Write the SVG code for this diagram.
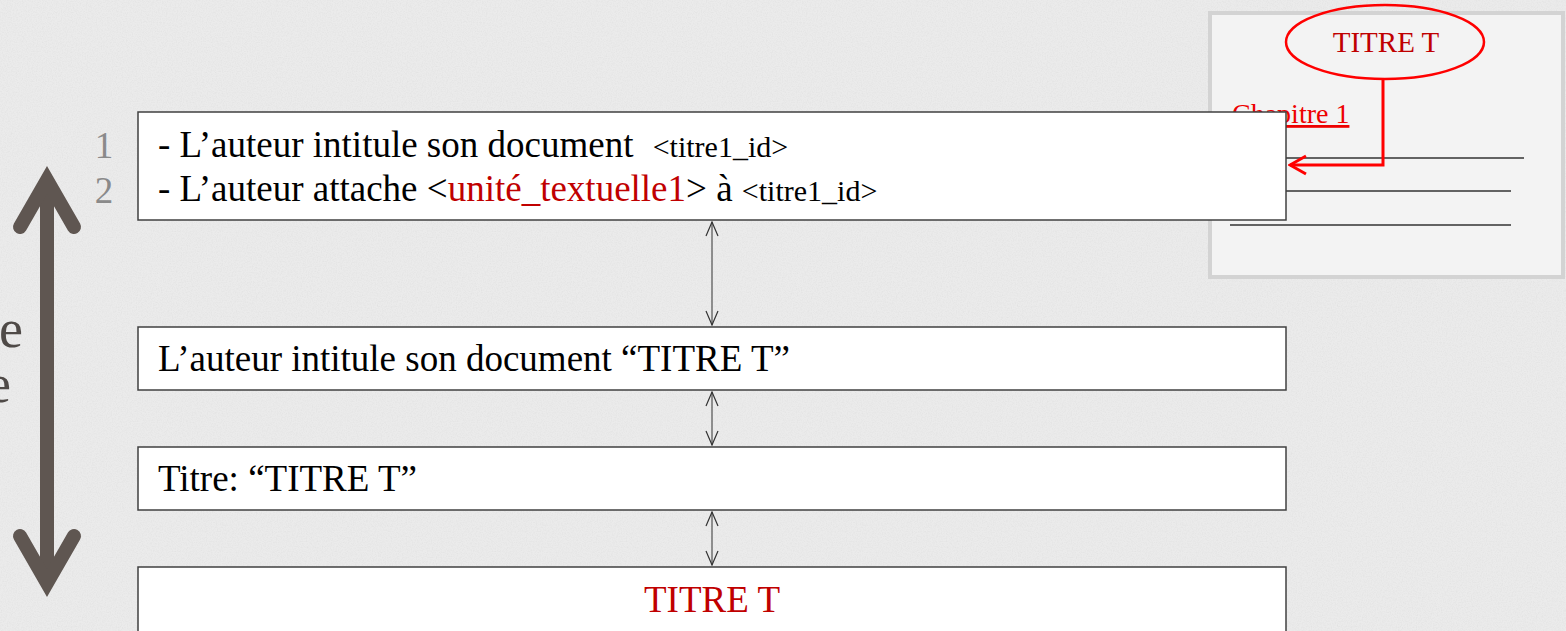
<svg xmlns="http://www.w3.org/2000/svg" width="1566" height="631" viewBox="0 0 1566 631">
<defs>
<style>
.txt{font-family:"Liberation Serif","Times New Roman",serif;font-size:37px;fill:#000}
.small{font-size:30px}
.red{fill:#c00000}
.box{fill:#fff;stroke:#404040;stroke-width:1.5}
.conn{stroke:#333;stroke-width:1;fill:none;marker-start:url(#ah);marker-end:url(#ah)}
.num{font-family:"Liberation Serif","Times New Roman",serif;font-size:37px;fill:#8a8a8a}
.rule{stroke:#333;stroke-width:1.5}
</style>
<filter id="paper" x="0" y="0" width="100%" height="100%">
<feTurbulence type="fractalNoise" baseFrequency="0.8" numOctaves="3" seed="4" result="n"/>
<feColorMatrix in="n" type="matrix" values="0 0 0 0 0.5  0 0 0 0 0.5  0 0 0 0 0.5  0 0 0 -0.9 0.55"/>
</filter>
<marker id="ah" viewBox="0 0 16 14" refX="15" refY="7" markerWidth="16" markerHeight="14" markerUnits="userSpaceOnUse" orient="auto-start-reverse">
<path d="M1,1 L15,7 L1,13" fill="none" stroke="#333" stroke-width="1.2"/>
</marker>
<marker id="rh" viewBox="0 0 20 22" refX="18" refY="11" markerWidth="20" markerHeight="22" markerUnits="userSpaceOnUse" orient="auto">
<path d="M2,2 L18,11 L2,20" fill="none" stroke="#ff0000" stroke-width="3"/>
</marker>
</defs>
<rect x="0" y="0" width="1566" height="631" fill="#ebebeb"/>
<rect x="0" y="0" width="1566" height="631" filter="url(#paper)" opacity="0.35"/>

<g id="panel">
<rect x="1210" y="13" width="353" height="264" fill="#f3f3f3" stroke="#d3d3d3" stroke-width="4"/>
<line class="rule" x1="1230" y1="158" x2="1524" y2="158"/>
<line class="rule" x1="1230" y1="191" x2="1511" y2="191"/>
<line class="rule" x1="1230" y1="225" x2="1511" y2="225"/>
<text x="1232" y="123" style="font-family:'Liberation Serif','Times New Roman',serif;font-size:28px;fill:#ee0000;text-decoration:underline">Chapitre 1</text>
<ellipse cx="1385" cy="42" rx="99" ry="37" fill="none" stroke="#ff0000" stroke-width="2.5"/>
<text x="1386" y="52" text-anchor="middle" style="font-family:'Liberation Serif','Times New Roman',serif;font-size:29px;fill:#c00000">TITRE T</text>
<polyline points="1383,79 1383,165 1290,165" fill="none" stroke="#ff0000" stroke-width="3" marker-end="url(#rh)"/>
</g>

<g id="axis">
<line x1="47" y1="180" x2="47" y2="583" stroke="#5f5651" stroke-width="14"/>
<polyline points="20,227 47,180 74,227" fill="none" stroke="#5f5651" stroke-width="14" stroke-linecap="round" stroke-linejoin="miter" stroke-miterlimit="10"/>
<polyline points="20,536 47,583 74,536" fill="none" stroke="#5f5651" stroke-width="14" stroke-linecap="round" stroke-linejoin="miter" stroke-miterlimit="10"/>
<text x="23" y="347" text-anchor="end" style="font-family:'Liberation Serif','Times New Roman',serif;font-size:54px;fill:#4f4a47">e</text>
<text x="11" y="402" text-anchor="end" style="font-family:'Liberation Serif','Times New Roman',serif;font-size:54px;fill:#4f4a47">e</text>
</g>

<g id="connectors">
<line class="conn" x1="712" y1="222" x2="712" y2="325"/>
<line class="conn" x1="712" y1="392" x2="712" y2="445"/>
<line class="conn" x1="712" y1="512" x2="712" y2="565"/>
</g>

<g id="box1">
<rect class="box" x="138" y="112" width="1148" height="108"/>
<text class="num" x="104" y="158" text-anchor="middle">1</text>
<text class="num" x="104" y="203" text-anchor="middle">2</text>
<text class="txt" x="158" y="157">- L’auteur intitule son document <tspan class="small" dx="10">&lt;titre1_id&gt;</tspan></text>
<text class="txt" x="158" y="201">- L’auteur attache &lt;<tspan class="red">unité_textuelle1</tspan>&gt; à <tspan class="small">&lt;titre1_id&gt;</tspan></text>
</g>

<g id="box2">
<rect class="box" x="138" y="327" width="1148" height="63"/>
<text class="txt" x="158" y="371">L’auteur intitule son document “TITRE T”</text>
</g>

<g id="box3">
<rect class="box" x="138" y="447" width="1148" height="63"/>
<text class="txt" x="158" y="491">Titre: “TITRE T”</text>
</g>

<g id="box4">
<rect class="box" x="138" y="567" width="1148" height="66"/>
<text class="txt red" x="712" y="612" text-anchor="middle">TITRE T</text>
</g>
</svg>
